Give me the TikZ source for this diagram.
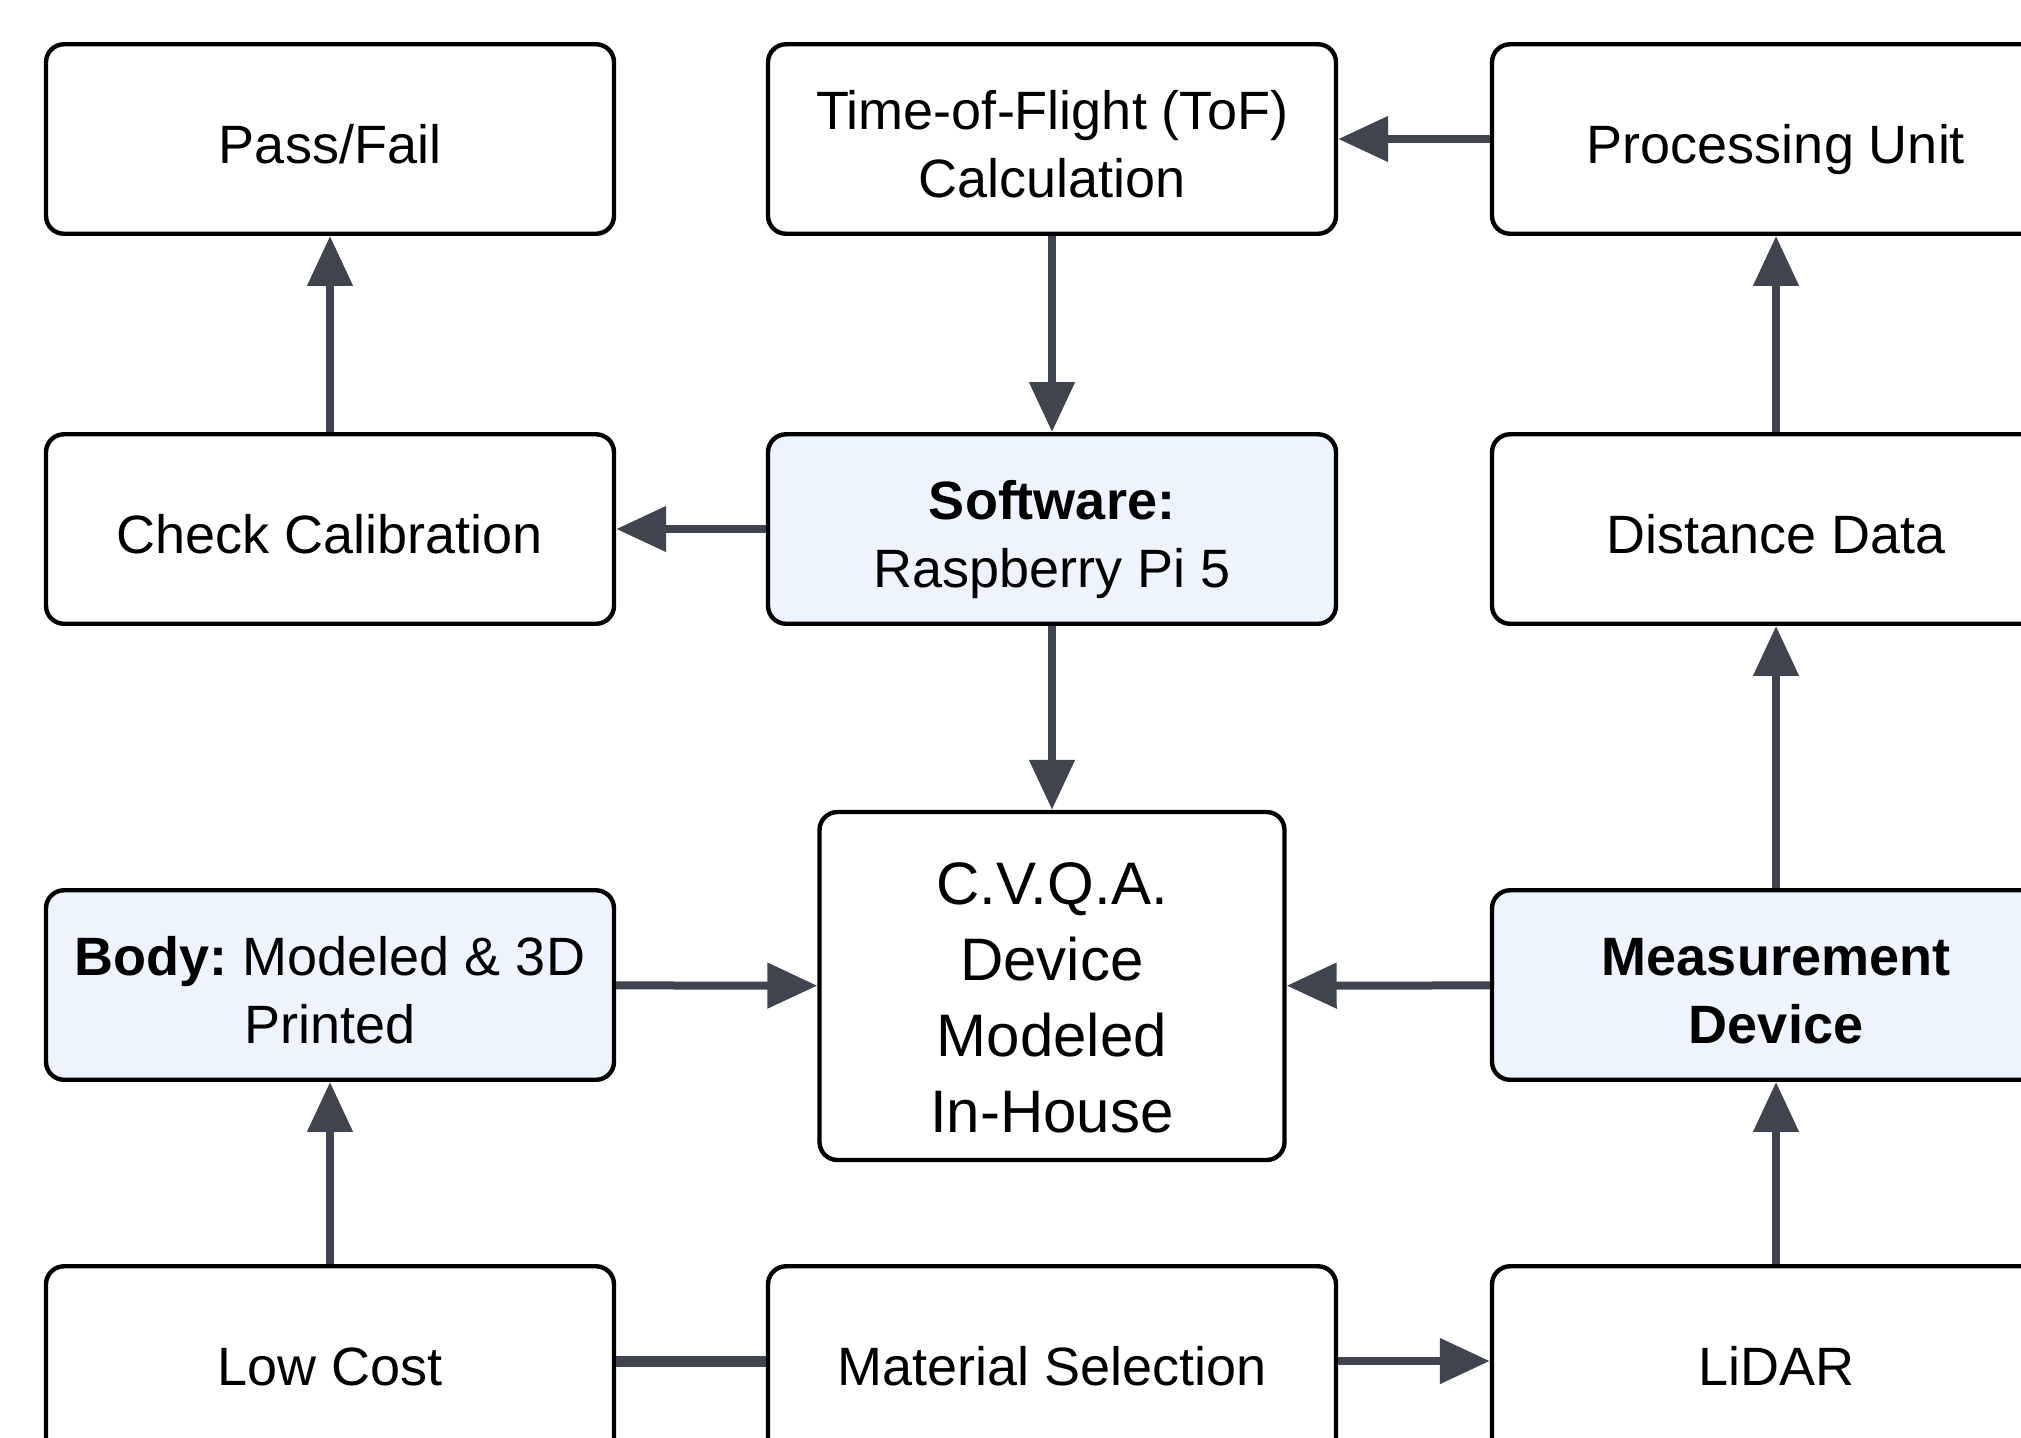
\documentclass[tikz,border=0pt]{standalone}
\usepackage{fontspec}
\setmainfont{Liberation Sans}
\usetikzlibrary{arrows.meta}
\definecolor{edgec}{RGB}{63,68,79}
\definecolor{bluef}{RGB}{237,244,254}
\begin{document}
\begin{tikzpicture}[x=0.5pt,y=-0.5pt,
  box/.style={draw=black, line width=2.2pt, rounded corners=9pt, fill=white,
    minimum width=284pt, minimum height=94.75pt, align=center, inner sep=0pt,
    font=\fontsize{27}{34}\selectfont},
  hlbox/.style={box, fill=bluef},
  oneline/.style={text height=24pt, text depth=0pt},
  twoline/.style={text height=58.5pt, text depth=0pt},
  conn/.style={draw=edgec, line width=4pt, -{Triangle[length=25pt,width=22pt]}},
  plainconn/.style={draw=edgec, line width=5.5pt}]
\useasboundingbox (0,0) rectangle (2021,1437);
\clip (0,0) rectangle (2021,1437);
\fill[white] (0,0) rectangle (2021,1437);

\node[box, oneline] (pass) at (330,139) {Pass/Fail};
\node[box, twoline] (tof) at (1052,139) {Time-of-Flight (ToF)\\Calculation};
\node[box, oneline] (pu) at (1776,139) {Processing Unit};
\node[box, oneline] (check) at (330,529) {Check Calibration};
\node[hlbox, twoline] (sw) at (1052,529) {\textbf{Software:}\\Raspberry Pi 5};
\node[box, oneline] (dist) at (1776,529) {Distance Data};
\node[hlbox, twoline] (body) at (330,985) {\textbf{Body:}~Modeled \& 3D\\Printed};
\node[box, minimum width=232.5pt, minimum height=174pt,
  font=\fontsize{30}{38}\selectfont, text height=146.5pt, text depth=0pt] (cvqa) at (1052,986) {C.V.Q.A.\\Device\\Modeled\\In-House};
\node[hlbox, twoline] (meas) at (1776,985) {\textbf{Measurement}\\\textbf{Device}};
\node[box, oneline] (low) at (330,1361) {Low Cost};
\node[box, oneline] (mat) at (1052,1361) {Material Selection};
\node[box, oneline] (lidar) at (1776,1361) {LiDAR};

\draw[conn] (pu) -- (tof);
\draw[conn] (tof) -- (sw);
\draw[conn] (sw) -- (check);
\draw[conn] (check) -- (pass);
\draw[conn] (sw) -- (cvqa);
\draw[conn] (body) -- (cvqa);
\draw[conn] (meas) -- (cvqa);
\draw[conn] (meas) -- (dist);
\draw[conn] (dist) -- (pu);
\draw[conn] (low) -- (body);
\draw[plainconn] (low) -- (mat);
\draw[conn] (mat) -- (lidar);
\draw[conn] (lidar) -- (meas);
\end{tikzpicture}
\end{document}
